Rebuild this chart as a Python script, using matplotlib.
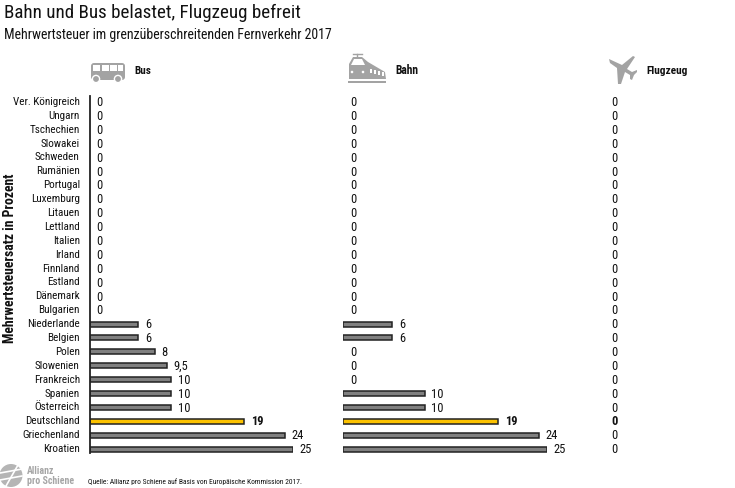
import matplotlib
matplotlib.use('Agg')
import matplotlib.pyplot as plt
from matplotlib import font_manager
from matplotlib.patches import Circle, Polygon, Rectangle, FancyBboxPatch

W, H = 735, 488

countries = ['Ver. Königreich', 'Ungarn', 'Tschechien', 'Slowakei', 'Schweden', 'Rumänien',
             'Portugal', 'Luxemburg', 'Litauen', 'Lettland', 'Italien', 'Irland', 'Finnland',
             'Estland', 'Dänemark', 'Bulgarien', 'Niederlande', 'Belgien', 'Polen', 'Slowenien',
             'Frankreich', 'Spanien', 'Österreich', 'Deutschland', 'Griechenland', 'Kroatien']
bus = [0, 0, 0, 0, 0, 0, 0, 0, 0, 0, 0, 0, 0, 0, 0, 0, 6, 6, 8, 9.5, 10, 10, 10, 19, 24, 25]
bahn = [0, 0, 0, 0, 0, 0, 0, 0, 0, 0, 0, 0, 0, 0, 0, 0, 6, 6, 0, 0, 0, 10, 10, 19, 24, 25]
flug = [0] * 26

installed = {f.name for f in font_manager.fontManager.ttflist}
narrow = 'Roboto Condensed' if 'Roboto Condensed' in installed else 'Roboto'
plt.rcParams['font.family'] = [narrow, 'DejaVu Sans']

fig = plt.figure(figsize=(W / 100, H / 100), dpi=100)
fig.patch.set_facecolor('white')


def panel(x0, values):
    ax = fig.add_axes([x0 / W, (H - 456) / H, 203.5 / W, 361 / H])
    ax.set_xlim(0, 25)
    ax.set_ylim(25.5, -0.5)
    ax.axis('off')
    for i, v in enumerate(values):
        col = '#fcc200' if countries[i] == 'Deutschland' else '#808080'
        if v > 0:
            ax.barh(i, v, height=0.36, color=col, edgecolor='#222222', linewidth=1.1)
        ax.annotate(str(v).replace('.', ','), (v, i), xytext=(4.8, -0.5), textcoords='offset points',
                    ha='left', va='center', fontsize=9, color='#111111',
                    fontweight='bold' if countries[i] == 'Deutschland' else 'normal')
    return ax


ax_bus = panel(89.5, bus)
panel(343.3, bahn)
panel(604.5, flug)

ax_bus.plot([0, 0], [-0.45, 25.3], color='#222222', lw=1.3, clip_on=False)
for i, c in enumerate(countries):
    ax_bus.annotate(c, (0, i), xytext=(-7, 0), textcoords='offset points', ha='right',
                    va='center', fontsize=8, color='#111111')

# overlay in pixel coordinates for text and the icons
ov = fig.add_axes([0, 0, 1, 1], zorder=5)
ov.set_xlim(0, W)
ov.set_ylim(H, 0)
ov.axis('off')

ov.text(4, 13, 'Bahn und Bus belastet, Flugzeug befreit', fontsize=13.7, va='center', color='#111111')
ov.text(4, 35, 'Mehrwertsteuer im grenzüberschreitenden Fernverkehr 2017', fontsize=10,
        va='center', color='#111111')
ov.text(134.5, 71, 'Bus', fontsize=8, fontweight='bold', va='center', color='#111111')
ov.text(395.5, 71, 'Bahn', fontsize=8.3, fontweight='bold', va='center', color='#111111')
ov.text(646.5, 71, 'Flugzeug', fontsize=8.2, fontweight='bold', va='center', color='#111111')
ov.text(10, 258, 'Mehrwertsteuersatz in Prozent', fontsize=9.9, fontweight='bold', rotation=90,
        va='center', ha='center', color='#111111')
ov.text(88, 482, 'Quelle: Allianz pro Schiene auf Basis von Europäische Kommission 2017.',
        fontsize=5.45, va='center', color='#111111')
ov.text(27, 471, 'Allianz', fontsize=7.1, fontweight='bold', va='center', color='#a6a6a6')
ov.text(27, 481, 'pro Schiene', fontsize=7.1, fontweight='bold', va='center', color='#a6a6a6')

grey = '#a3a3a3'
# bus
ov.add_patch(FancyBboxPatch((91, 63), 34, 17, boxstyle='round,pad=0,rounding_size=3', fc=grey, ec='none'))
for x in (93, 102, 110):
    ov.add_patch(Rectangle((x, 65), 7, 6, fc='white', ec='none'))
ov.add_patch(Rectangle((118, 65), 5, 6, fc='white', ec='none'))
for x in (96, 118):
    ov.add_patch(Circle((x, 79), 3.6, fc=grey, ec='white', lw=1))

# train
ov.add_patch(Polygon([(349, 64), (353, 57), (362, 57), (368, 62), (385, 72), (386, 79), (349, 79)],
                     fc=grey, ec='none'))
ov.add_patch(Polygon([(351, 65), (354, 59), (362, 59), (365, 65)], fc='white', ec='none'))
ov.add_patch(Rectangle((348, 81), 38, 1.5, fc=grey, ec='none'))
ov.plot([353, 362], [54, 54], color=grey, lw=1)
ov.plot([357, 357], [54, 57], color=grey, lw=1)
for x in (352, 363):
    ov.add_patch(Circle((x, 72), 1.3, fc='white', ec='none'))
for x in (370, 374, 378, 382):
    ov.add_patch(Rectangle((x, 69 + (x - 370) * 0.25), 2, 4, fc='white', ec='none'))

# plane
ov.add_patch(Polygon([(609, 59), (622, 65), (633, 56), (635, 57), (627, 69), (632, 72), (637, 70),
                      (637, 72), (634, 75), (632, 80), (630, 79), (630, 75), (625, 72), (621, 84),
                      (618, 84), (617, 68), (610, 63)], fc=grey, ec='none'))

# logo
ov.add_patch(Circle((11, 475.5), 11.5, fc='#b5b5b5', ec='none'))
for y0, y1 in ((473, 469), (480, 476)):
    ov.plot([0, 22], [y0, y1], color='white', lw=1.2)
ov.plot([6, 18], [486, 465], color='white', lw=1.2)

fig.savefig('out.png', dpi=100)
